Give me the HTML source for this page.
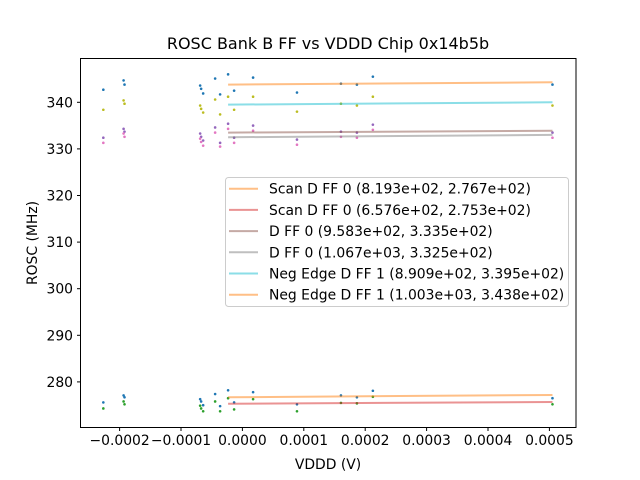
<!DOCTYPE html>
<html><head><meta charset="utf-8"><style>
html,body{margin:0;padding:0;background:#fff;width:640px;height:480px;overflow:hidden}
svg text{font-family:"DejaVu Sans","Liberation Sans",sans-serif;fill:#000}
</style></head><body>
<svg id="chart" width="640" height="480" viewBox="0 0 640 480" xmlns="http://www.w3.org/2000/svg">
<rect width="640" height="480" fill="#fff"/>
<text x="328" y="49" font-size="16" text-anchor="middle">ROSC Bank B FF vs VDDD Chip 0x14b5b</text>
<g id="marks"></g>
<rect x="80.5" y="58.5" width="495.5" height="369" fill="none" stroke="#000" stroke-width="1"/>
<g id="xticks"></g><g id="yticks"></g>
<text x="328" y="469" font-size="13.9" text-anchor="middle">VDDD (V)</text>
<text transform="translate(37,243) rotate(-90)" font-size="13.9" text-anchor="middle">ROSC (MHz)</text>
<g id="legend"></g>
</svg>
<script>
const xVals=[-2.265e-4,-1.935e-4,-1.92e-4,-0.688e-4,-0.672e-4,-0.639e-4,-0.444e-4,-0.363e-4,-0.233e-4,-0.135e-4,0.174e-4,0.889e-4,1.605e-4,1.865e-4,2.125e-4,5.05e-4];
const blueHigh=[342.7,344.7,343.8,343.6,342.9,341.9,345.1,341.7,346.0,342.5,345.3,342.1,344.0,343.8,345.5,343.8];
const oliveHigh=[338.4,340.4,339.7,339.3,338.6,337.8,340.6,337.4,341.2,338.4,341.2,338.0,339.7,339.3,341.2,339.3];
const purpleMid=[332.4,334.3,333.7,333.3,332.6,331.8,334.6,331.3,335.4,332.4,335.0,332.0,333.7,333.5,335.2,333.5];
const pinkMid=[331.3,333.3,332.6,332.2,331.5,330.7,333.5,330.5,334.3,331.3,333.9,330.9,332.6,332.4,334.1,332.4];
const blueLow=[275.6,277.1,276.7,276.3,275.8,275.0,277.4,274.8,278.2,275.6,277.8,275.2,277.1,276.7,278.1,276.5];
const greenLow=[274.3,275.8,275.2,274.9,274.3,273.7,275.8,273.7,276.5,274.1,276.3,273.7,275.5,275.4,276.8,275.2];
const fitX=[-0.233e-4,5.05e-4];
const fitOrangeLow=[276.7,277.2];
const fitRed=[275.3,275.7];
const fitBrown=[333.5,333.9];
const fitGray=[332.5,333.0];
const fitCyan=[339.5,340.0];
const fitOrangeHigh=[343.8,344.3];
const xTicks=[-0.0002,-0.0001,0,0.0001,0.0002,0.0003,0.0004,0.0005];
const xTickLabels=["\u22120.0002","\u22120.0001","0.0000","0.0001","0.0002","0.0003","0.0004","0.0005"];
const yTicks=[280,290,300,310,320,330,340];
const legendLabels=["Scan D FF 0 (8.193e+02, 2.767e+02)","Scan D FF 0 (6.576e+02, 2.753e+02)","D FF 0 (9.583e+02, 3.335e+02)","D FF 0 (1.067e+03, 3.325e+02)","Neg Edge D FF 1 (8.909e+02, 3.395e+02)","Neg Edge D FF 1 (1.003e+03, 3.438e+02)"];

const NS="http://www.w3.org/2000/svg";
function X(v){return 242.4+v*614000;}
function Y(v){return 102.3+(340-v)*4.66;}
function mk(t,a,p){const e=document.createElementNS(NS,t);for(const k in a)e.setAttribute(k,a[k]);p.appendChild(e);return e;}
const marks=document.getElementById('marks');
const scat=[[blueHigh,'#1f77b4','scatter-blue-high'],[oliveHigh,'#bcbd22','scatter-olive-high'],[purpleMid,'#9467bd','scatter-purple-mid'],[pinkMid,'#e377c2','scatter-pink-mid'],[blueLow,'#1f77b4','scatter-blue-low'],[greenLow,'#2ca02c','scatter-green-low']];
const fits=[[fitOrangeLow,'#ff7f0e','fit-scan-dff-0-a'],[fitRed,'#d62728','fit-scan-dff-0-b'],[fitBrown,'#8c564b','fit-dff-0-a'],[fitGray,'#7f7f7f','fit-dff-0-b'],[fitCyan,'#17becf','fit-neg-edge-dff-1-a'],[fitOrangeHigh,'#ff7f0e','fit-neg-edge-dff-1-b']];
scat.forEach(s=>{
  const g=mk('g',{},marks);
  
  
  s[0].forEach((v,i)=>{
    const c=mk('circle',{cx:X(xVals[i]),cy:Y(v),r:1.3,fill:s[1]},g);
    
    
  });
});
fits.forEach(f=>{
  const l=mk('line',{x1:X(fitX[0]),y1:Y(f[0][0]),x2:X(fitX[1]),y2:Y(f[0][1]),stroke:f[1],'stroke-opacity':0.5,'stroke-width':2},marks);
  
  
});
const xt=document.getElementById('xticks');
xTicks.forEach((v,i)=>{
  const x=X(v);
  const t=mk('line',{x1:x,y1:427.5,x2:x,y2:431,stroke:'#000','stroke-width':1},xt);
  
  
  const tx=mk('text',{x:x,y:445,'font-size':13.9,'text-anchor':'middle'},xt);
  tx.textContent=xTickLabels[i];
  
  
});
const yt=document.getElementById('yticks');
yTicks.forEach(v=>{
  const y=Y(v);
  const t=mk('line',{x1:77,y1:y,x2:80.5,y2:y,stroke:'#000','stroke-width':1},yt);
  
  
  const tx=mk('text',{x:73,y:y+5,'font-size':13.9,'text-anchor':'end'},yt);
  tx.textContent=String(v);
  
  
});
const lg=document.getElementById('legend');


mk('rect',{x:225.5,y:177.5,width:343,height:129,rx:3,fill:'#fff','fill-opacity':0.8,stroke:'#ccc','stroke-width':1},lg);
legendLabels.forEach((lab,i)=>{
  const y=188.7+i*21.2;
  const g=mk('g',{},lg);
  
  
  mk('line',{x1:229,y1:y,x2:258,y2:y,stroke:fits[i][1],'stroke-opacity':0.5,'stroke-width':2},g);
  const t=mk('text',{x:269,y:y+5,'font-size':13.9},g);
  t.textContent=lab;
});
</script>
</body></html>
